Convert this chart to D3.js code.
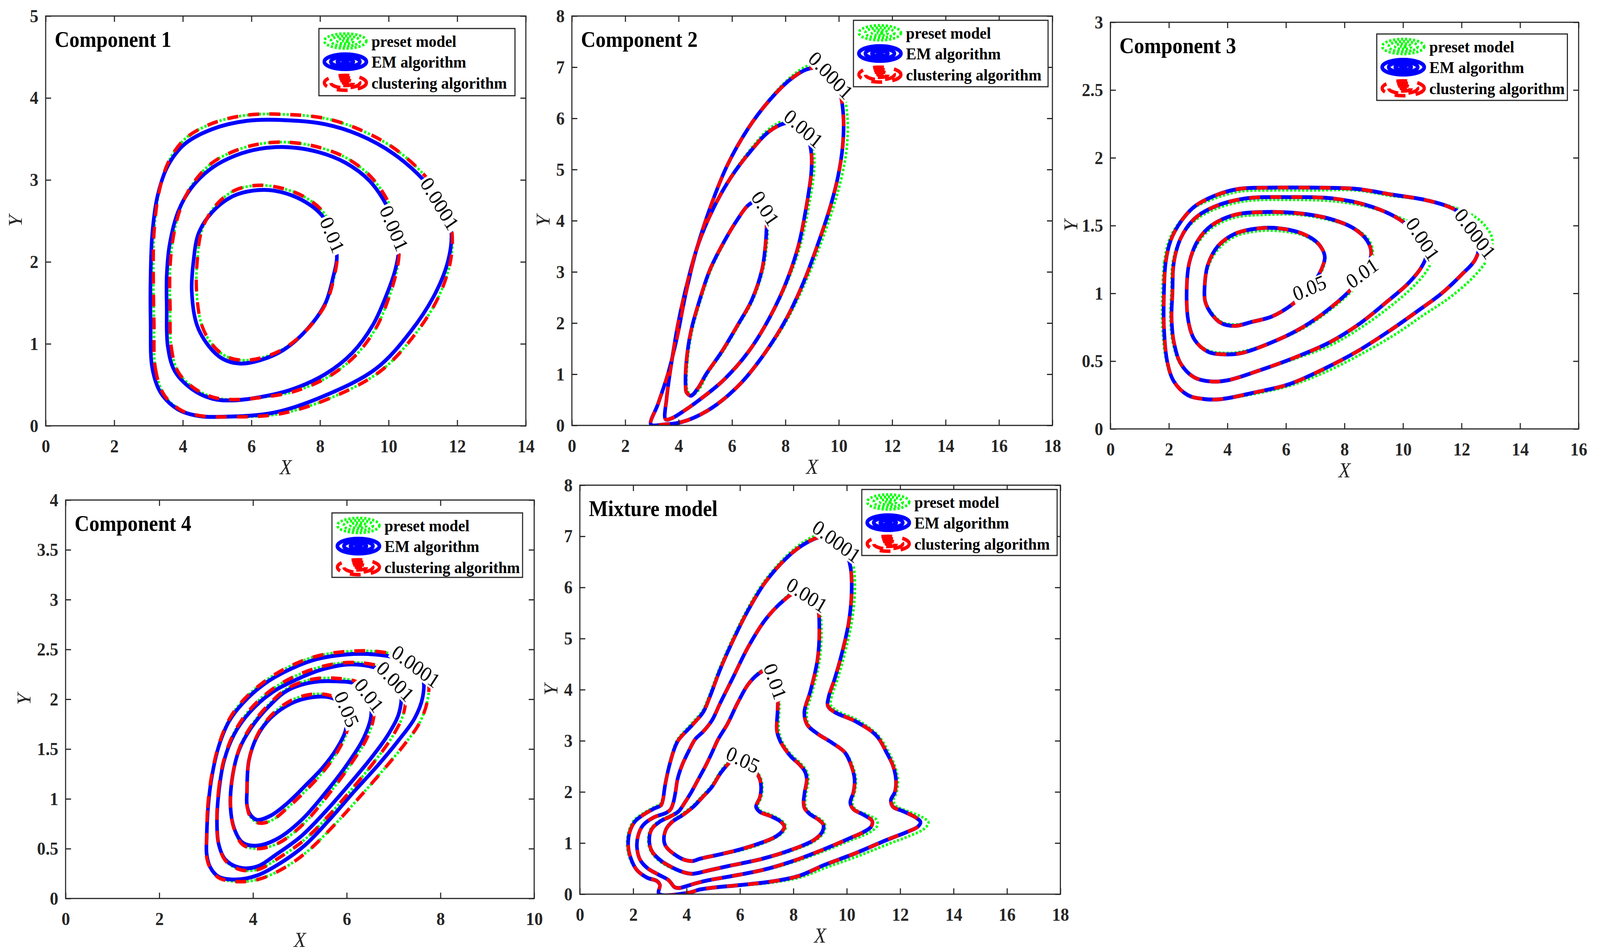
<!DOCTYPE html>
<html><head><meta charset="utf-8">
<script src="https://cdn.jsdelivr.net/npm/d3@7/dist/d3.min.js"></script>
<style>html,body{margin:0;padding:0;background:#fff;overflow:hidden}svg{display:block;width:100vw;height:100vh}</style>
</head><body>
<svg id="fig" viewBox="0 0 4415 2437" preserveAspectRatio="none" xmlns="http://www.w3.org/2000/svg"></svg>
<script>
// ================= DATA =================
const seriesNames = ["preset model", "EM algorithm", "clustering algorithm"];

// ---- Component 1 ----
const c1Levels = ["0.0001", "0.001", "0.01"];
const c1EM = [
  [[3.06,1.26],[3.11,0.70],[3.36,0.40],[3.86,0.20],[4.46,0.12],[5.15,0.11],[6.65,0.16],[8.15,0.37],[9.64,0.70],[10.64,1.15],[11.34,1.60],[11.73,2.01],[11.83,2.35],[11.66,2.64],[11.04,2.99],[10.14,3.32],[9.14,3.55],[8.14,3.68],[6.95,3.73],[5.85,3.72],[4.86,3.62],[4.06,3.44],[3.56,3.17],[3.26,2.80],[3.11,2.35],[3.06,1.83]],
  [[3.53,1.45],[3.56,0.97],[3.76,0.67],[4.26,0.45],[4.86,0.33],[5.45,0.31],[6.25,0.35],[7.15,0.44],[8.15,0.63],[8.94,0.89],[9.54,1.23],[9.94,1.60],[10.19,1.90],[10.29,2.13],[10.24,2.39],[9.94,2.69],[9.44,2.99],[8.74,3.21],[7.95,3.34],[7.05,3.40],[6.25,3.38],[5.55,3.30],[4.86,3.15],[4.26,2.91],[3.86,2.61],[3.61,2.20],[3.53,1.83]],
  [[4.26,1.64],[4.41,1.23],[4.76,0.97],[5.15,0.82],[5.65,0.76],[6.25,0.80],[6.95,0.93],[7.65,1.19],[8.15,1.49],[8.39,1.83],[8.49,2.05],[8.39,2.31],[8.05,2.57],[7.45,2.76],[6.65,2.87],[6.05,2.87],[5.45,2.80],[4.86,2.61],[4.46,2.35],[4.31,2.01]]
];
const c1Preset = [
  [[3.16,1.26],[3.20,0.70],[3.45,0.38],[3.95,0.19],[4.55,0.12],[5.25,0.11],[6.75,0.14],[8.25,0.33],[9.74,0.66],[10.74,1.10],[11.44,1.56],[11.80,2.00],[11.85,2.35],[11.68,2.68],[11.08,3.04],[10.18,3.38],[9.18,3.61],[8.16,3.75],[6.95,3.80],[5.85,3.79],[4.86,3.69],[4.06,3.50],[3.58,3.22],[3.30,2.84],[3.16,2.35],[3.14,1.83]],
  [[3.63,1.45],[3.66,0.97],[3.86,0.66],[4.36,0.45],[4.96,0.34],[5.55,0.32],[6.35,0.35],[7.25,0.42],[8.25,0.60],[9.04,0.86],[9.64,1.20],[10.02,1.58],[10.24,1.90],[10.31,2.13],[10.26,2.42],[9.98,2.74],[9.48,3.04],[8.76,3.27],[7.95,3.40],[7.05,3.46],[6.25,3.44],[5.55,3.36],[4.86,3.21],[4.30,2.96],[3.92,2.64],[3.69,2.22],[3.62,1.83]],
  [[4.40,1.64],[4.55,1.23],[4.86,0.99],[5.25,0.85],[5.75,0.80],[6.30,0.83],[6.98,0.95],[7.68,1.20],[8.18,1.50],[8.42,1.83],[8.50,2.07],[8.41,2.35],[8.07,2.62],[7.47,2.81],[6.65,2.92],[6.05,2.93],[5.45,2.86],[4.90,2.66],[4.55,2.38],[4.42,2.01]]
];
const c1Cluster = c1Preset;
const c1Labels = [[11.49,2.71,57],[10.16,2.41,66],[8.36,2.33,66]];

// ---- Component 2 ----
const c2Levels = ["0.0001", "0.001", "0.01"];
const c2EM = [
  [[2.96,0.02],[3.22,0.41],[3.60,1.01],[3.94,1.72],[4.26,2.56],[4.65,3.40],[5.17,4.24],[5.82,5.08],[6.60,5.80],[7.38,6.34],[8.16,6.75],[8.81,6.96],[9.33,6.98],[9.79,6.81],[10.04,6.51],[10.17,6.04],[10.14,5.44],[9.96,4.84],[9.66,4.24],[9.20,3.52],[8.68,2.80],[8.03,2.08],[7.25,1.43],[6.34,0.83],[5.43,0.41],[4.65,0.17],[3.99,0.05],[3.48,0.02]],
  [[3.51,0.12],[3.55,0.53],[3.74,1.25],[3.99,2.02],[4.33,2.80],[4.72,3.52],[5.30,4.24],[5.95,4.84],[6.73,5.38],[7.38,5.74],[8.03,5.91],[8.49,5.88],[8.81,5.67],[8.97,5.32],[8.97,4.96],[8.81,4.36],[8.49,3.52],[8.03,2.80],[7.38,2.08],[6.60,1.43],[5.69,0.89],[4.78,0.50],[4.13,0.26],[3.74,0.14]],
  [[4.26,0.77],[4.29,1.25],[4.46,1.84],[4.78,2.44],[5.17,3.04],[5.69,3.58],[6.21,4.03],[6.60,4.30],[6.93,4.39],[7.21,4.30],[7.29,4.00],[7.25,3.52],[7.12,3.04],[6.73,2.44],[6.21,1.96],[5.60,1.43],[5.04,1.01],[4.70,0.71],[4.46,0.58],[4.29,0.65]]
];
const c2Preset = [
  [[2.96,0.02],[3.22,0.41],[3.60,1.01],[3.94,1.72],[4.26,2.56],[4.65,3.40],[5.17,4.24],[5.82,5.08],[6.60,5.80],[7.38,6.36],[8.16,6.79],[8.81,7.02],[9.33,7.05],[9.85,6.88],[10.15,6.55],[10.32,6.04],[10.30,5.44],[10.10,4.84],[9.78,4.24],[9.30,3.52],[8.75,2.80],[8.08,2.08],[7.28,1.43],[6.36,0.83],[5.45,0.41],[4.66,0.17],[3.99,0.05],[3.48,0.02]],
  [[3.51,0.12],[3.55,0.53],[3.74,1.25],[3.99,2.02],[4.33,2.80],[4.72,3.52],[5.30,4.24],[5.95,4.86],[6.73,5.42],[7.38,5.79],[8.03,5.97],[8.52,5.95],[8.88,5.72],[9.06,5.35],[9.07,4.96],[8.90,4.36],[8.56,3.52],[8.07,2.80],[7.40,2.08],[6.62,1.43],[5.70,0.89],[4.78,0.50],[4.13,0.26],[3.74,0.14]],
  [[4.30,0.77],[4.33,1.25],[4.50,1.84],[4.82,2.44],[5.21,3.04],[5.72,3.58],[6.23,4.04],[6.62,4.32],[6.95,4.42],[7.25,4.33],[7.34,4.00],[7.30,3.52],[7.16,3.04],[6.77,2.44],[6.25,1.96],[5.64,1.43],[5.08,1.01],[4.76,0.70],[4.54,0.60],[4.34,0.66]]
];
const c2Cluster = c2EM;
const c2Labels = [[9.70,6.84,45],[8.68,5.80,40],[7.25,4.24,57]];

// ---- Component 3 ----
const c3Levels = ["0.0001", "0.001", "0.01", "0.05"];
const c3EM = [
  [[1.83,1.00],[1.89,1.23],[2.06,1.39],[2.41,1.53],[2.87,1.64],[3.56,1.72],[4.37,1.77],[5.53,1.78],[6.92,1.78],[8.42,1.77],[9.58,1.73],[10.74,1.69],[11.55,1.64],[12.13,1.57],[12.47,1.48],[12.61,1.37],[12.47,1.25],[12.01,1.14],[11.32,1.00],[10.50,0.87],[9.58,0.73],[8.42,0.57],[7.27,0.44],[6.11,0.33],[4.95,0.27],[3.79,0.22],[3.22,0.22],[2.64,0.25],[2.17,0.35],[1.94,0.50],[1.83,0.75]],
  [[2.12,1.00],[2.17,1.23],[2.41,1.41],[2.87,1.55],[3.56,1.64],[4.60,1.70],[6.11,1.71],[7.61,1.70],[8.77,1.65],[9.69,1.57],[10.27,1.48],[10.67,1.37],[10.79,1.28],[10.62,1.19],[10.16,1.07],[9.46,0.94],[8.54,0.78],[7.50,0.64],[6.34,0.53],[5.07,0.43],[4.03,0.36],[3.45,0.35],[2.87,0.38],[2.41,0.48],[2.17,0.64],[2.09,0.82]],
  [[2.61,1.05],[2.70,1.23],[2.99,1.39],[3.45,1.50],[4.26,1.58],[5.30,1.60],[6.46,1.59],[7.50,1.55],[8.31,1.48],[8.77,1.39],[8.91,1.30],[8.77,1.19],[8.31,1.05],[7.50,0.89],[6.57,0.75],[5.53,0.64],[4.49,0.56],[3.91,0.55],[3.33,0.57],[2.87,0.66],[2.66,0.80]],
  [[3.22,1.05],[3.33,1.21],[3.68,1.35],[4.26,1.44],[5.07,1.48],[5.76,1.48],[6.57,1.44],[7.09,1.37],[7.32,1.28],[7.27,1.21],[6.92,1.07],[6.34,0.94],[5.53,0.83],[4.84,0.79],[4.26,0.76],[3.79,0.78],[3.45,0.85],[3.24,0.94]]
];
const c3Preset = [
  [[1.78,1.00],[1.84,1.23],[2.02,1.40],[2.38,1.53],[2.85,1.63],[3.56,1.70],[4.37,1.75],[5.53,1.76],[6.92,1.76],[8.42,1.76],[9.58,1.72],[10.74,1.69],[11.65,1.64],[12.35,1.58],[12.80,1.50],[13.05,1.40],[12.90,1.26],[12.40,1.12],[11.60,0.97],[10.70,0.84],[9.75,0.70],[8.55,0.55],[7.35,0.42],[6.15,0.32],[4.95,0.26],[3.79,0.22],[3.22,0.22],[2.62,0.25],[2.13,0.36],[1.90,0.51],[1.78,0.75]],
  [[2.08,1.00],[2.13,1.23],[2.38,1.40],[2.85,1.53],[3.56,1.62],[4.60,1.68],[6.11,1.69],[7.61,1.68],[8.77,1.64],[9.75,1.57],[10.45,1.50],[10.95,1.40],[11.05,1.30],[10.85,1.18],[10.35,1.05],[9.60,0.91],[8.65,0.76],[7.55,0.62],[6.34,0.52],[5.07,0.43],[4.03,0.36],[3.45,0.35],[2.85,0.38],[2.38,0.48],[2.13,0.64],[2.05,0.82]],
  [[2.61,1.05],[2.70,1.22],[2.99,1.37],[3.45,1.48],[4.26,1.56],[5.30,1.58],[6.46,1.58],[7.50,1.54],[8.35,1.48],[8.84,1.39],[8.97,1.30],[8.82,1.18],[8.35,1.04],[7.52,0.88],[6.57,0.74],[5.53,0.64],[4.49,0.57],[3.91,0.56],[3.33,0.58],[2.87,0.66],[2.66,0.80]],
  [[3.24,1.05],[3.35,1.20],[3.70,1.33],[4.26,1.42],[5.07,1.46],[5.76,1.46],[6.57,1.43],[7.10,1.36],[7.34,1.28],[7.29,1.20],[6.94,1.06],[6.36,0.94],[5.55,0.83],[4.84,0.79],[4.26,0.77],[3.79,0.79],[3.46,0.86],[3.26,0.94]]
];
const c3Cluster = c3EM;
const c3Labels = [[12.47,1.44,52],[10.68,1.40,56],[8.60,1.15,-35],[6.80,1.04,-22]];

// ---- Component 4 ----
const c4Levels = ["0.0001", "0.001", "0.01", "0.05"];
const c4EM = [
  [[3.01,0.60],[3.04,0.91],[3.12,1.22],[3.27,1.53],[3.49,1.78],[3.78,1.96],[4.23,2.15],[4.74,2.29],[5.34,2.40],[6.00,2.45],[6.59,2.45],[7.11,2.41],[7.48,2.33],[7.63,2.21],[7.62,2.02],[7.45,1.81],[7.11,1.59],[6.67,1.34],[6.15,1.07],[5.63,0.79],[5.12,0.54],[4.60,0.36],[4.08,0.23],[3.63,0.19],[3.26,0.22],[3.08,0.32],[3.01,0.45]],
  [[3.23,0.76],[3.27,1.07],[3.38,1.38],[3.60,1.65],[3.93,1.87],[4.38,2.06],[4.89,2.19],[5.48,2.30],[6.08,2.35],[6.59,2.32],[6.97,2.24],[7.15,2.09],[7.12,1.87],[6.89,1.65],[6.52,1.41],[6.08,1.16],[5.56,0.88],[5.04,0.63],[4.52,0.45],[4.08,0.32],[3.71,0.31],[3.41,0.39],[3.27,0.54]],
  [[3.52,0.91],[3.56,1.22],[3.71,1.50],[3.97,1.72],[4.34,1.93],[4.74,2.09],[5.26,2.17],[5.78,2.18],[6.22,2.15],[6.48,2.02],[6.52,1.84],[6.37,1.62],[6.00,1.34],[5.56,1.07],[5.04,0.79],[4.52,0.60],[4.08,0.53],[3.78,0.56],[3.60,0.70]],
  [[3.87,1.07],[3.91,1.38],[4.08,1.62],[4.37,1.81],[4.82,1.96],[5.26,2.02],[5.63,2.02],[5.89,1.96],[6.00,1.84],[5.97,1.68],[5.78,1.50],[5.48,1.31],[5.11,1.13],[4.74,0.96],[4.37,0.83],[4.08,0.79],[3.93,0.85],[3.87,0.94]]
];
const c4Preset = [
  [[3.01,0.60],[3.03,0.91],[3.11,1.22],[3.26,1.53],[3.48,1.79],[3.77,1.98],[4.22,2.17],[4.74,2.32],[5.34,2.43],[6.00,2.48],[6.62,2.48],[7.18,2.43],[7.57,2.33],[7.74,2.18],[7.72,1.98],[7.55,1.76],[7.22,1.54],[6.78,1.29],[6.26,1.01],[5.72,0.73],[5.18,0.48],[4.64,0.30],[4.10,0.19],[3.63,0.17],[3.26,0.21],[3.07,0.32],[3.00,0.45]],
  [[3.23,0.76],[3.26,1.07],[3.37,1.38],[3.59,1.66],[3.92,1.89],[4.38,2.09],[4.89,2.23],[5.48,2.33],[6.08,2.37],[6.64,2.34],[7.05,2.26],[7.24,2.10],[7.22,1.87],[6.98,1.63],[6.60,1.38],[6.15,1.12],[5.63,0.84],[5.10,0.59],[4.56,0.41],[4.10,0.29],[3.72,0.29],[3.41,0.38],[3.27,0.54]],
  [[3.52,0.91],[3.56,1.22],[3.71,1.51],[3.97,1.74],[4.34,1.95],[4.74,2.11],[5.26,2.20],[5.78,2.21],[6.24,2.17],[6.52,2.04],[6.58,1.84],[6.43,1.61],[6.06,1.33],[5.62,1.05],[5.10,0.76],[4.56,0.56],[4.10,0.50],[3.78,0.54],[3.60,0.69]],
  [[3.87,1.07],[3.91,1.38],[4.08,1.63],[4.37,1.83],[4.82,1.99],[5.26,2.05],[5.63,2.04],[5.91,1.97],[6.03,1.84],[6.00,1.67],[5.81,1.48],[5.51,1.28],[5.14,1.09],[4.76,0.92],[4.38,0.78],[4.10,0.76],[3.93,0.83],[3.87,0.94]]
];
const c4Cluster = c4Preset;
const c4Labels = [[7.48,2.33,35],[7.04,2.18,45],[6.48,2.04,52],[6.00,1.90,66]];

// ---- Mixture model ----
const c5Levels = ["0.0001", "0.001", "0.01", "0.05"];
const c5EM = [
  [[2.96,0.01],[3.00,0.18],[2.88,0.26],[2.53,0.32],[2.14,0.47],[1.91,0.70],[1.81,0.96],[1.87,1.22],[2.06,1.42],[2.37,1.55],[2.76,1.67],[3.04,1.74],[3.11,1.84],[3.19,2.12],[3.35,2.51],[3.58,2.90],[3.70,3.02],[4.23,3.32],[4.62,3.56],[4.87,3.86],[5.26,4.40],[5.78,5.01],[6.30,5.55],[6.93,6.09],[7.73,6.57],[8.38,6.84],[9.03,6.99],[9.55,6.96],[9.94,6.72],[10.14,6.39],[10.18,5.91],[10.07,5.31],[9.81,4.70],[9.55,4.22],[9.32,3.86],[9.29,3.68],[9.55,3.56],[10.33,3.38],[11.11,3.10],[11.49,2.77],[11.73,2.51],[11.84,2.25],[11.80,2.00],[11.65,1.84],[11.73,1.71],[12.12,1.62],[12.58,1.50],[12.76,1.41],[12.66,1.32],[12.27,1.22],[11.49,1.06],[10.32,0.80],[9.15,0.57],[8.22,0.36],[7.21,0.25],[6.04,0.18],[5.02,0.13],[4.48,0.09],[4.09,0.03]],
  [[3.70,0.12],[3.54,0.14],[3.43,0.21],[3.31,0.28],[2.92,0.39],[2.53,0.51],[2.26,0.67],[2.14,0.91],[2.18,1.14],[2.37,1.35],[2.76,1.50],[3.23,1.59],[3.40,1.66],[3.50,1.79],[3.58,1.99],[3.66,2.25],[3.82,2.51],[4.05,2.77],[4.32,3.03],[4.62,3.18],[4.95,3.40],[5.26,3.74],[5.72,4.22],[6.30,4.83],[6.95,5.37],[7.60,5.73],[8.12,5.91],[8.58,5.85],[8.90,5.61],[8.97,5.19],[8.90,4.58],[8.64,3.98],[8.41,3.56],[8.51,3.32],[8.90,3.14],[9.45,2.96],[9.93,2.77],[10.17,2.51],[10.29,2.25],[10.25,2.00],[10.13,1.79],[10.25,1.66],[10.64,1.55],[10.95,1.43],[10.91,1.32],[10.64,1.22],[10.09,1.09],[9.15,0.88],[7.99,0.65],[6.82,0.47],[5.65,0.35],[4.79,0.27],[4.32,0.21],[4.01,0.16]],
  [[4.24,0.40],[4.87,0.47],[5.65,0.56],[6.82,0.69],[7.99,0.88],[8.77,1.06],[9.08,1.22],[9.12,1.36],[8.96,1.45],[8.61,1.57],[8.42,1.68],[8.38,1.79],[8.42,1.99],[8.50,2.25],[8.42,2.41],[8.22,2.54],[7.91,2.69],[7.67,2.85],[7.50,3.00],[7.38,3.20],[7.41,3.62],[7.41,4.10],[7.28,4.34],[7.02,4.40],[6.69,4.31],[6.30,4.10],[5.91,3.74],[5.52,3.32],[5.18,3.03],[4.95,2.77],[4.71,2.51],[4.44,2.25],[4.17,1.99],[3.93,1.79],[3.70,1.62],[3.39,1.52],[3.00,1.42],[2.69,1.27],[2.60,1.06],[2.69,0.85],[3.00,0.67],[3.47,0.52],[3.95,0.42]],
  [[3.15,1.06],[3.23,1.27],[3.47,1.42],[3.86,1.55],[4.25,1.71],[4.60,1.90],[4.95,2.10],[5.26,2.36],[5.49,2.51],[5.69,2.62],[5.96,2.72],[6.20,2.68],[6.35,2.60],[6.54,2.44],[6.74,2.25],[6.79,2.07],[6.74,1.89],[6.60,1.71],[6.74,1.61],[7.13,1.53],[7.52,1.42],[7.66,1.32],[7.56,1.22],[7.28,1.11],[6.82,1.01],[6.04,0.88],[5.26,0.78],[4.48,0.69],[4.24,0.65],[3.93,0.67],[3.54,0.78],[3.23,0.93]]
];
const c5Preset = [
  [[2.96,0.01],[3.00,0.18],[2.86,0.27],[2.50,0.33],[2.11,0.48],[1.87,0.70],[1.77,0.96],[1.83,1.23],[2.02,1.44],[2.34,1.57],[2.74,1.69],[3.02,1.77],[3.09,1.86],[3.17,2.13],[3.33,2.52],[3.56,2.92],[3.68,3.04],[4.21,3.35],[4.60,3.59],[4.85,3.89],[5.24,4.43],[5.76,5.04],[6.28,5.58],[6.91,6.12],[7.73,6.61],[8.38,6.89],[9.05,7.05],[9.62,7.02],[10.04,6.76],[10.26,6.39],[10.30,5.91],[10.18,5.31],[9.92,4.70],[9.66,4.22],[9.43,3.86],[9.40,3.70],[9.66,3.58],[10.42,3.40],[11.18,3.10],[11.56,2.78],[11.80,2.51],[11.91,2.25],[11.87,2.00],[11.75,1.84],[11.83,1.73],[12.30,1.62],[12.85,1.50],[13.06,1.40],[12.90,1.28],[12.40,1.15],[11.55,0.98],[10.40,0.74],[9.22,0.52],[8.26,0.33],[7.23,0.23],[6.05,0.17],[5.02,0.12],[4.48,0.08],[4.09,0.02]],
  [[3.70,0.12],[3.54,0.14],[3.43,0.21],[3.31,0.28],[2.92,0.39],[2.53,0.51],[2.26,0.67],[2.14,0.91],[2.18,1.14],[2.37,1.35],[2.76,1.50],[3.23,1.59],[3.40,1.66],[3.50,1.79],[3.58,1.99],[3.66,2.25],[3.82,2.51],[4.05,2.77],[4.32,3.03],[4.62,3.18],[4.95,3.40],[5.26,3.74],[5.72,4.22],[6.30,4.83],[6.95,5.37],[7.60,5.75],[8.14,5.95],[8.62,5.89],[8.96,5.63],[9.05,5.19],[8.98,4.58],[8.72,3.98],[8.50,3.56],[8.58,3.30],[8.96,3.12],[9.50,2.94],[9.98,2.75],[10.22,2.51],[10.34,2.25],[10.30,2.00],[10.20,1.80],[10.32,1.66],[10.78,1.55],[11.12,1.45],[11.14,1.34],[10.95,1.24],[10.62,1.15],[10.12,1.05],[9.18,0.85],[8.01,0.63],[6.83,0.46],[5.65,0.34],[4.79,0.26],[4.32,0.20],[4.01,0.15]],
  [[4.24,0.39],[4.87,0.46],[5.65,0.55],[6.82,0.68],[7.99,0.86],[8.80,1.04],[9.14,1.21],[9.18,1.37],[9.00,1.47],[8.65,1.58],[8.47,1.69],[8.44,1.79],[8.48,1.99],[8.56,2.25],[8.48,2.42],[8.27,2.56],[7.95,2.71],[7.71,2.87],[7.55,3.02],[7.45,3.22],[7.47,3.62],[7.46,4.10],[7.32,4.36],[7.04,4.43],[6.69,4.33],[6.30,4.12],[5.91,3.76],[5.52,3.34],[5.18,3.05],[4.95,2.79],[4.71,2.53],[4.44,2.27],[4.17,2.01],[3.93,1.81],[3.70,1.64],[3.39,1.54],[3.00,1.44],[2.66,1.28],[2.56,1.06],[2.66,0.84],[2.98,0.65],[3.47,0.50],[3.95,0.41]],
  [[3.13,1.06],[3.21,1.27],[3.45,1.43],[3.84,1.57],[4.23,1.73],[4.58,1.92],[4.93,2.12],[5.24,2.38],[5.47,2.54],[5.68,2.65],[5.96,2.75],[6.22,2.71],[6.38,2.62],[6.58,2.45],[6.79,2.25],[6.84,2.07],[6.79,1.89],[6.66,1.72],[6.78,1.63],[7.17,1.55],[7.58,1.43],[7.72,1.32],[7.61,1.21],[7.31,1.10],[6.84,0.99],[6.05,0.86],[5.26,0.77],[4.48,0.68],[4.24,0.64],[3.93,0.66],[3.53,0.77],[3.21,0.93]]
];
const c5Cluster = c5EM;
const c5Labels = [[9.62,6.90,35],[8.51,5.85,32],[7.32,4.16,70],[6.11,2.63,25]];

// ================= LAYOUT (pixels) =================
const layout = [
  {title:"Component 1", xmax:14, ymax:5, xstep:2, ystep:1, l:126, t:41, r:1451, b:1090, lg:[880,73,541,172], yLab:84,
   levels:c1Levels, data:[c1Preset,c1EM,c1Cluster], labels:c1Labels},
  {title:"Component 2", xmax:18, ymax:8, xstep:2, ystep:1, l:1578, t:41, r:2904, b:1089, lg:[2355,52,537,170], yLab:80,
   levels:c2Levels, data:[c2Preset,c2EM,c2Cluster], labels:c2Labels},
  {title:"Component 3", xmax:16, ymax:3, xstep:2, ystep:0.5, l:3064, t:57, r:4356, b:1098, lg:[3799,87,526,170], yLab:110,
   levels:c3Levels, data:[c3Preset,c3EM,c3Cluster], labels:c3Labels},
  {title:"Component 4", xmax:10, ymax:4, xstep:2, ystep:0.5, l:181, t:1280, r:1474, b:2300, lg:[916,1313,526,165], yLab:115,
   levels:c4Levels, data:[c4Preset,c4EM,c4Cluster], labels:c4Labels},
  {title:"Mixture model", xmax:18, ymax:8, xstep:2, ystep:1, l:1600, t:1242, r:2926, b:2289, lg:[2378,1253,539,169], yLab:80,
   levels:c5Levels, data:[c5Preset,c5EM,c5Cluster], labels:c5Labels}
];

const styles = [
  {color:"#00ff00", width:7, dash:"6 5"},
  {color:"#0000ff", width:10, dash:null},
  {color:"#ff0000", width:9, dash:"30 28"}
];
const AX = "#262626";
const FONT = "'Liberation Serif','Times New Roman',serif";

const svg = d3.select("#fig");
svg.append("rect").attr("width",4415).attr("height",2437).attr("fill","#fff");

layout.forEach((p, pi) => {
  const x = d3.scaleLinear().domain([0,p.xmax]).range([p.l,p.r]);
  const y = d3.scaleLinear().domain([0,p.ymax]).range([p.b,p.t]);
  const g = svg.append("g");
  const clipId = "clip"+pi;
  g.append("clipPath").attr("id",clipId).append("rect")
    .attr("x",p.l).attr("y",p.t).attr("width",p.r-p.l).attr("height",p.b-p.t);
  const line = d3.line().x(d=>x(d[0])).y(d=>y(d[1])).curve(d3.curveCatmullRomClosed.alpha(0.5));
  const plot = g.append("g").attr("clip-path",`url(#${clipId})`);
  p.data.forEach((series, si) => {
    const st = styles[si];
    plot.selectAll(null).data(series).join("path")
      .attr("d", d=>line(d))
      .attr("fill","none").attr("stroke",st.color).attr("stroke-width",st.width)
      .attr("stroke-dasharray",st.dash).attr("stroke-linejoin","round");
  });
  // contour labels
  p.labels.forEach((lb, li) => {
    const lg = g.append("g").attr("transform",`translate(${x(lb[0])},${y(lb[1])}) rotate(${lb[2]})`);
    const txt = lg.append("text").text(p.levels[li]).attr("text-anchor","middle").attr("dy","0.34em")
      .attr("font-family",FONT).attr("font-size",54).attr("fill","#000");
    const bb = txt.node().getBBox();
    lg.insert("rect","text").attr("x",bb.x-4).attr("y",bb.y+8).attr("width",bb.width+8).attr("height",bb.height-14).attr("fill","#fff");
  });
  // axes
  const xt = d3.range(0, p.xmax + 1e-9, p.xstep);
  const yt = d3.range(0, p.ymax + 1e-9, p.ystep);
  const fmt = v => String(+v.toFixed(2));
  const styleAxis = (sel) => {
    sel.select(".domain").remove();
    sel.selectAll("line").attr("stroke",AX).attr("stroke-width",3);
    sel.selectAll("text").attr("font-family",FONT).attr("font-size",47).attr("font-weight","bold").attr("fill",AX);
  };
  g.append("g").attr("transform",`translate(0,${p.b})`)
    .call(d3.axisBottom(x).tickValues(xt).tickFormat(fmt).tickSizeInner(-15).tickSizeOuter(0).tickPadding(35)).call(styleAxis);
  g.append("g").attr("transform",`translate(0,${p.t})`)
    .call(d3.axisTop(x).tickValues(xt).tickFormat("").tickSizeInner(-15).tickSizeOuter(0)).call(styleAxis);
  g.append("g").attr("transform",`translate(${p.l},0)`)
    .call(d3.axisLeft(y).tickValues(yt).tickFormat(fmt).tickSizeInner(-15).tickSizeOuter(0).tickPadding(20)).call(styleAxis);
  g.append("g").attr("transform",`translate(${p.r},0)`)
    .call(d3.axisRight(y).tickValues(yt).tickFormat("").tickSizeInner(-15).tickSizeOuter(0)).call(styleAxis);
  g.append("rect").attr("x",p.l).attr("y",p.t).attr("width",p.r-p.l).attr("height",p.b-p.t)
    .attr("fill","none").attr("stroke",AX).attr("stroke-width",3);
  // axis labels
  g.append("text").text("X").attr("x",(p.l+p.r)/2).attr("y",p.b+124).attr("text-anchor","middle")
    .attr("font-family",FONT).attr("font-style","italic").attr("font-size",54).attr("fill",AX);
  g.append("text").text("Y").attr("transform",`translate(${p.l-p.yLab},${(p.t+p.b)/2}) rotate(-90)`)
    .attr("text-anchor","middle").attr("dy","0.34em")
    .attr("font-family",FONT).attr("font-style","italic").attr("font-size",54).attr("fill",AX);
  // title
  g.append("text").text(p.title).attr("x",p.l+25).attr("y",p.t+79)
    .attr("font-family",FONT).attr("font-weight","bold").attr("font-size",56).attr("fill","#000");
  // legend
  const [lx,ly,lw,lh] = p.lg;
  const leg = g.append("g").attr("transform",`translate(${lx},${ly})`);
  leg.append("rect").attr("width",lw).attr("height",lh).attr("fill","#fff").attr("stroke",AX).attr("stroke-width",3);
  const rows = [32, 85, 139];
  const rings = [[58,19],[40,13],[22,7],[6,2]];
  seriesNames.forEach((nm, si) => {
    const st = styles[si];
    const ic = leg.append("g").attr("transform",`translate(73,${rows[si]})`);
    ic.selectAll(null).data(rings).join("ellipse")
      .attr("rx",d=>d[0]).attr("ry",d=>d[1]).attr("fill","none")
      .attr("stroke",st.color).attr("stroke-width",st.width).attr("stroke-dasharray",st.dash);
    leg.append("text").text(nm).attr("x",145).attr("y",rows[si]+15)
      .attr("font-family",FONT).attr("font-weight","bold").attr("font-size",43).attr("fill","#000");
  });
});
</script>
</body></html>
